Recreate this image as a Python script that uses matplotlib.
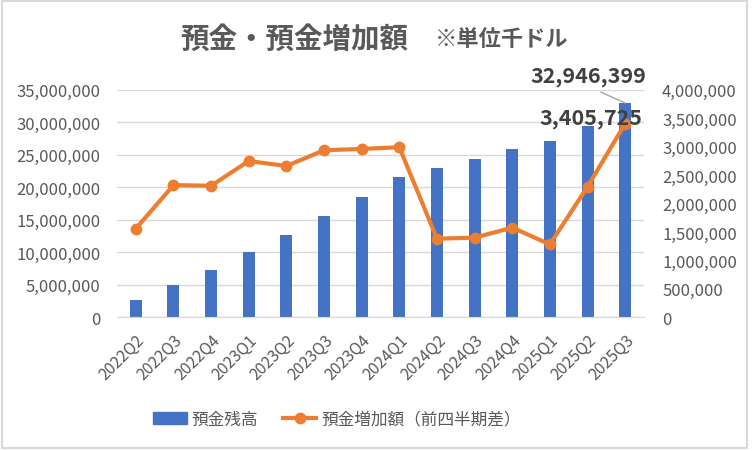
import matplotlib

matplotlib.use("Agg")
import matplotlib.pyplot as plt  # noqa: E402
from matplotlib.lines import Line2D  # noqa: E402
from matplotlib.patches import Patch, Rectangle  # noqa: E402
from matplotlib.ticker import FuncFormatter, MultipleLocator  # noqa: E402

plt.rcParams["font.family"] = ["Noto Sans CJK JP", "DejaVu Sans"]

# data (thousand dollars)
quarters = ["2022Q2", "2022Q3", "2022Q4", "2023Q1", "2023Q2", "2023Q3", "2023Q4",
            "2024Q1", "2024Q2", "2024Q3", "2024Q4", "2025Q1", "2025Q2", "2025Q3"]
deposits = [2710000, 5010000, 7320000, 10090000, 12700000, 15620000, 18550000,
            21620000, 23000000, 24390000, 25930000, 27160000, 29460000, 32946399]
increase = [1559000, 2323000, 2312000, 2747000, 2659000, 2936000, 2959000,
            2989000, 1382000, 1400000, 1576000, 1282000, 2295000, 3405725]

BLUE = "#4472C4"
ORANGE = "#ED7D31"
GRAY = "#595959"
GRID = "#d9d9d9"

fig = plt.figure(figsize=(7.52, 4.52), dpi=100)
ax = fig.add_axes([0.1556, 0.2958, 0.7008, 0.5035])
ax2 = ax.twinx()

x = range(len(quarters))
ax.bar(x, deposits, width=0.32, color=BLUE, zorder=2)
ax2.plot(x, increase, color=ORANGE, lw=3, marker="o", ms=7.5, zorder=3)

comma = FuncFormatter(lambda v, p: f"{int(v):,}")
ax.set_ylim(0, 35000000)
ax.yaxis.set_major_locator(MultipleLocator(5000000))
ax.yaxis.set_major_formatter(comma)
ax2.set_ylim(0, 4000000)
ax2.yaxis.set_major_locator(MultipleLocator(500000))
ax2.yaxis.set_major_formatter(comma)
ax.set_xlim(-0.5, len(quarters) - 0.5)

ax.set_xticks(list(x))
ax.set_xticklabels(quarters, rotation=45, ha="right", rotation_mode="anchor")
ax.grid(axis="y", color=GRID, lw=1, zorder=0)
ax.set_axisbelow(True)
for a in (ax, ax2):
    for s in a.spines.values():
        s.set_visible(False)
ax.spines["bottom"].set_visible(True)
ax.spines["bottom"].set_color(GRID)
ax.tick_params(axis="y", length=0, pad=12, labelsize=12, labelcolor=GRAY)
ax.tick_params(axis="x", length=0, pad=10, labelsize=11.5, labelcolor=GRAY)
ax2.tick_params(axis="y", length=0, pad=13, labelsize=12, labelcolor=GRAY)

# data labels for the last quarter
ax.annotate(f"{deposits[-1]:,}", xy=(x[-1], deposits[-1]), xytext=(-26.5, 19.5),
            textcoords="offset points", ha="center", va="center",
            fontsize=15.5, fontweight="bold", color="#404040",
            arrowprops=dict(arrowstyle="-", color="#a6a6a6", lw=1,
                            relpos=(0.5, 0), shrinkA=5, shrinkB=0))
ax2.annotate(f"{increase[-1]:,}", xy=(x[-1], increase[-1]), xytext=(-24.5, 4.4),
             textcoords="offset points", ha="center", va="center",
             fontsize=15.5, fontweight="bold", color="#404040")

# title
fig.text(408 / 752, 0.9126, "預金・預金増加額", ha="right", va="center",
         fontsize=20.5, fontweight="bold", color=GRAY)
fig.text(435 / 752, 0.9126, "※単位千ドル", ha="left", va="center",
         fontsize=16, fontweight="bold", color=GRAY)

handles = [Patch(color=BLUE),
           Line2D([], [], color=ORANGE, lw=3, marker="o", ms=7.5)]
fig.legend(handles, ["預金残高", "預金増加額（前四半期差）"], loc="center",
           bbox_to_anchor=(337 / 752, 32 / 452), ncol=2, frameon=False,
           fontsize=12, labelcolor=GRAY, handlelength=2.0,
           handletextpad=0.3, columnspacing=1.5)

fig.patches.append(Rectangle((2 / 752, 3 / 452), 745 / 752, 447 / 452,
                             transform=fig.transFigure, fill=False,
                             edgecolor=GRID, lw=1.5))

fig.savefig("out.png", dpi=100)
plt.close(fig)
